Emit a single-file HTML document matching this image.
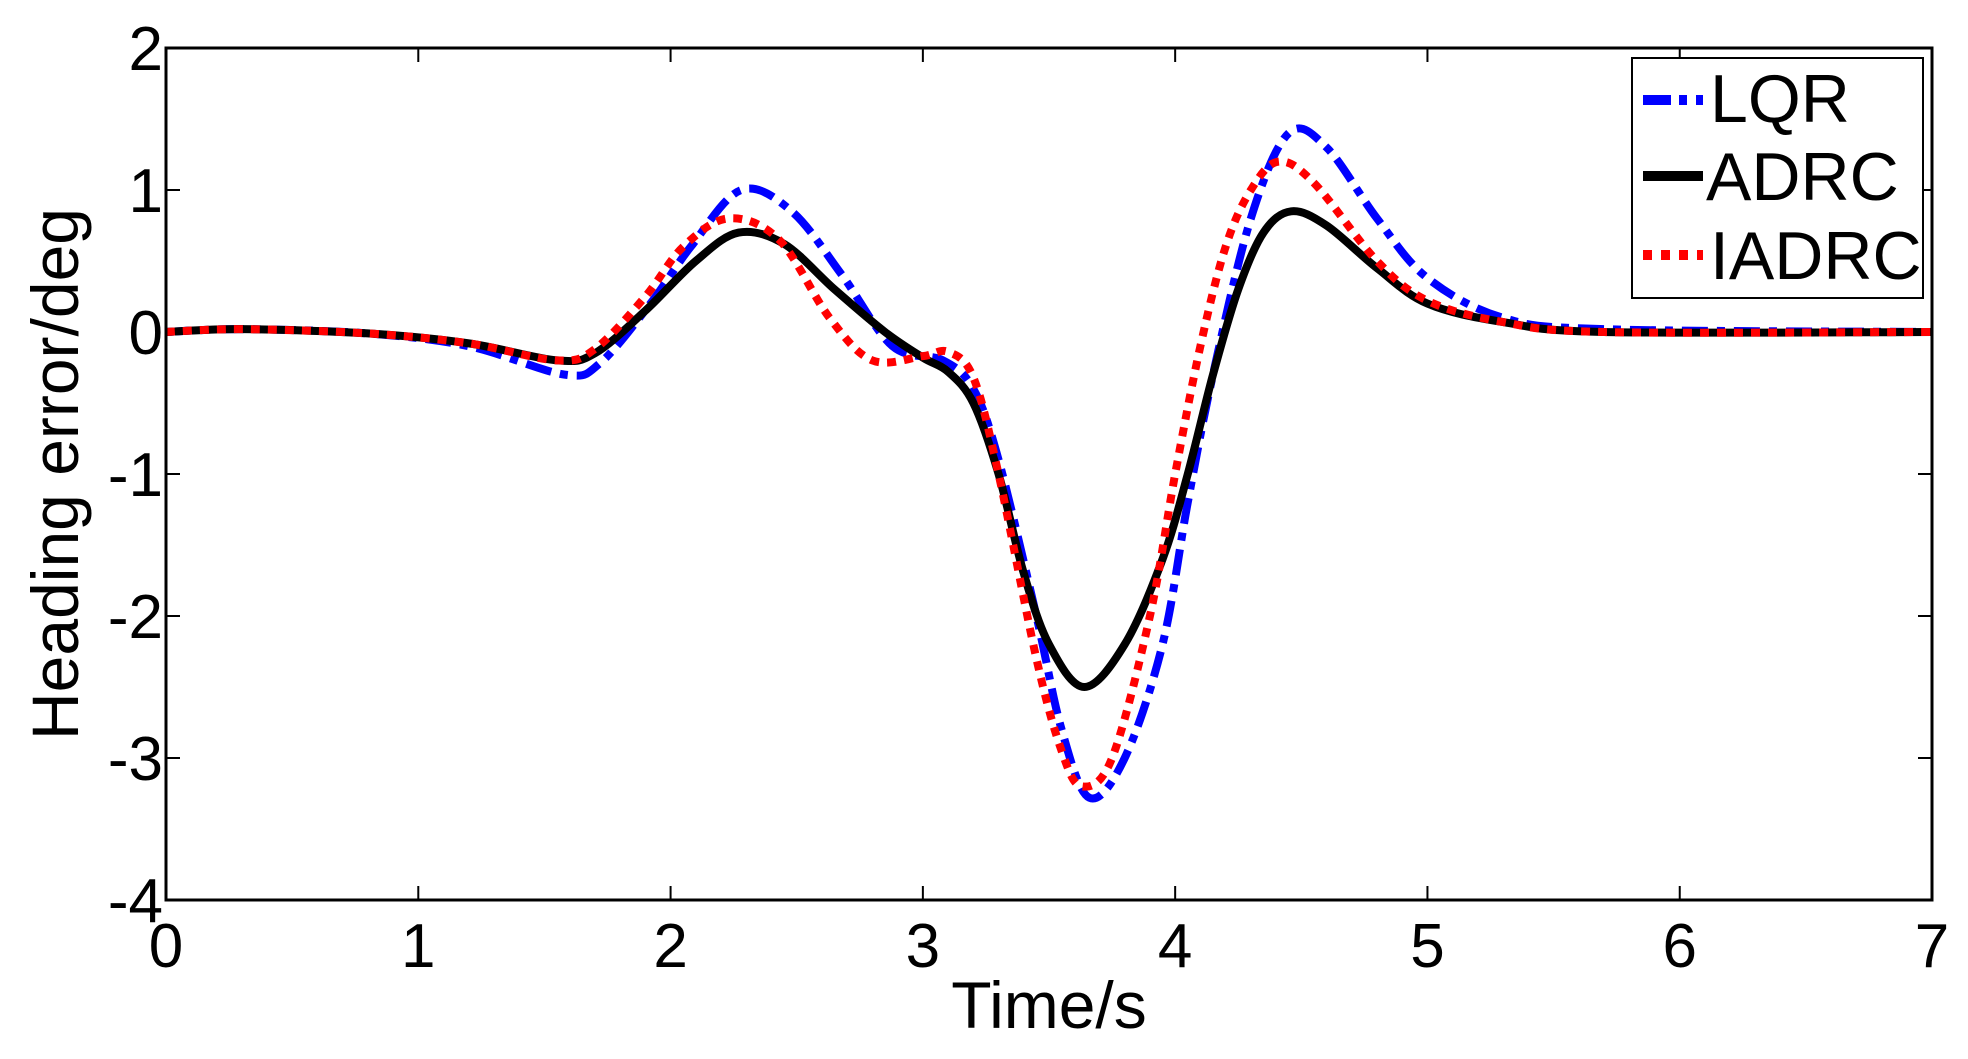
<!DOCTYPE html>
<html><head><meta charset="utf-8"><style>
html,body{margin:0;padding:0;background:#fff;}
svg{display:block;}
text{font-family:"Liberation Sans",Arial,sans-serif;fill:#000;}
</style></head><body>
<svg id="s" width="1968" height="1059" viewBox="0 0 1968 1059" xmlns="http://www.w3.org/2000/svg">
<rect width="1968" height="1059" fill="#fff"/>
<g id="ticks" stroke="#000" stroke-width="2"></g>
<g id="curves" fill="none" stroke-linejoin="round"></g>
<rect x="166" y="48" width="1766" height="852" fill="none" stroke="#000" stroke-width="3"/>
<g font-size="62" text-anchor="middle" id="xl"></g>
<g font-size="62" text-anchor="end" id="yl"></g>
<text x="1049" y="1028" font-size="66" text-anchor="middle">Time/s</text>
<text transform="translate(78,474) rotate(-90)" font-size="66" text-anchor="middle">Heading error/deg</text>
<rect x="1632" y="58" width="291" height="240" fill="#fff" stroke="#000" stroke-width="2"/>
<line x1="1643" y1="100" x2="1703" y2="100" stroke="#0000ff" stroke-width="10" stroke-dasharray="28,8,8,9,8,10"/>
<line x1="1643" y1="176" x2="1703" y2="176" stroke="#000" stroke-width="10"/>
<line x1="1643" y1="255" x2="1703" y2="255" stroke="#ff0000" stroke-width="10" stroke-dasharray="9,9"/>
<text x="1710" y="122" font-size="68">LQR</text>
<text x="1706" y="200" font-size="68">ADRC</text>
<text x="1710" y="279" font-size="68">IADRC</text>
</svg>
<script>
var X=function(t){return 166+t*252.29},Y=function(v){return 332-v*142};
var ns="http://www.w3.org/2000/svg";
function el(p,n,a){var e=document.createElementNS(ns,n);for(var k in a)e.setAttribute(k,a[k]);p.appendChild(e);return e;}
var tk=document.getElementById('ticks'),xl=document.getElementById('xl'),yl=document.getElementById('yl');
for(var i=0;i<=7;i++){var x=X(i);el(tk,'line',{x1:x,y1:900,x2:x,y2:886});el(tk,'line',{x1:x,y1:48,x2:x,y2:62});
 var t=el(xl,'text',{x:x,y:967});t.textContent=i;}
for(var v=-4;v<=2;v++){var y=Y(v);el(tk,'line',{x1:166,y1:y,x2:180,y2:y});el(tk,'line',{x1:1932,y1:y,x2:1918,y2:y});
 var t=el(yl,'text',{x:163,y:y+22});t.textContent=v;}
function path(p){var P=p.map(function(a){return [X(a[0]),Y(a[1])]});var d='M'+P[0][0]+','+P[0][1];
 for(var i=0;i<P.length-1;i++){var p0=P[i-1]||P[i],p1=P[i],p2=P[i+1],p3=P[i+2]||p2;
 d+='C'+(p1[0]+(p2[0]-p0[0])/6)+','+(p1[1]+(p2[1]-p0[1])/6)+' '+(p2[0]-(p3[0]-p1[0])/6)+','+(p2[1]-(p3[1]-p1[1])/6)+' '+p2[0]+','+p2[1];}return d;}
var adrc=[[0,0],[0.3,0.02],[0.8,-0.01],[1.2,-0.08],[1.55,-0.2],[1.7,-0.15],[1.9,0.15],[2.1,0.5],[2.27,0.7],[2.45,0.62],[2.65,0.3],[2.85,0.0],[3.0,-0.18],[3.1,-0.28],[3.2,-0.5],[3.3,-1.0],[3.4,-1.7],[3.5,-2.2],[3.64,-2.5],[3.8,-2.2],[3.95,-1.6],[4.05,-1.0],[4.15,-0.3],[4.25,0.3],[4.35,0.7],[4.46,0.85],[4.6,0.75],[4.8,0.45],[5.0,0.2],[5.3,0.07],[5.7,0.0],[7,0]];
var lqr=[[0,0],[0.3,0.02],[0.8,-0.01],[1.2,-0.1],[1.58,-0.3],[1.72,-0.22],[1.92,0.2],[2.08,0.6],[2.28,1.0],[2.48,0.85],[2.68,0.4],[2.88,-0.1],[3.08,-0.2],[3.2,-0.4],[3.3,-0.9],[3.45,-2.0],[3.55,-2.8],[3.66,-3.28],[3.8,-3.0],[3.95,-2.2],[4.05,-1.2],[4.15,-0.3],[4.3,0.8],[4.45,1.4],[4.6,1.3],[4.8,0.8],[5.0,0.38],[5.3,0.1],[5.7,0.02],[7,0]];
var iadrc=[[0,0],[0.3,0.02],[0.8,-0.01],[1.2,-0.08],[1.55,-0.2],[1.7,-0.12],[1.9,0.25],[2.05,0.6],[2.23,0.8],[2.43,0.65],[2.63,0.1],[2.8,-0.2],[3.0,-0.17],[3.1,-0.14],[3.2,-0.32],[3.3,-1.0],[3.45,-2.3],[3.55,-2.95],[3.63,-3.2],[3.75,-3.0],[3.9,-2.0],[4.0,-1.0],[4.1,-0.1],[4.2,0.6],[4.3,1.0],[4.41,1.2],[4.55,1.05],[4.8,0.5],[5.0,0.22],[5.3,0.07],[5.7,0.0],[7,0]];
var c=document.getElementById('curves');
el(c,'path',{d:path(lqr),stroke:'#0000ff','stroke-width':8,'stroke-dasharray':'26,9,8,9'});
el(c,'path',{d:path(adrc),stroke:'#000','stroke-width':8});
el(c,'path',{d:path(iadrc),stroke:'#ff0000','stroke-width':8,'stroke-dasharray':'9,8'});
</script>
</body></html>
